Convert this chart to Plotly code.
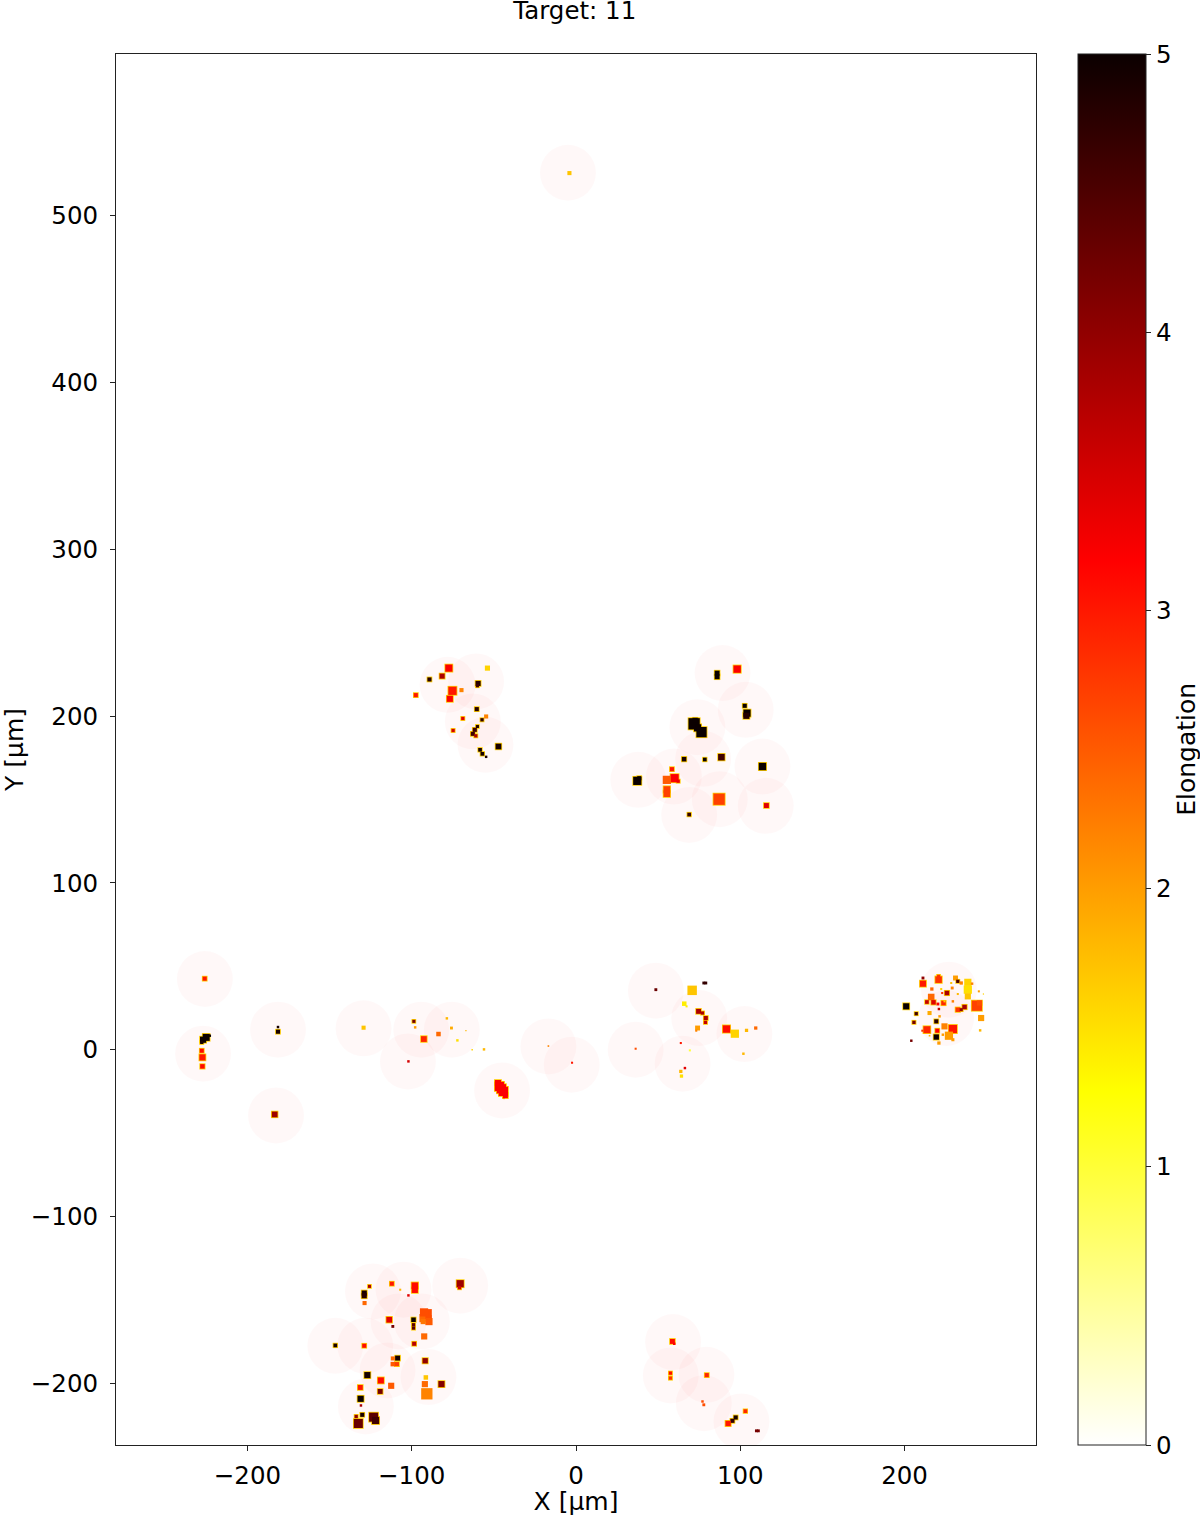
import plotly.graph_objects as go

title_text = "Target: 11"
x_label = "X [µm]"
y_label = "Y [µm]"
bar_label = "Elongation"

# Field-of-view circles (centres, µm)
circle_x = [-4.9, -78.2, -60.8, -62.8, -55.1, 89.2, 103.3, 73.9, 77.4, 113.5, 37.9, 59.6, 68.9, 87.5, 115.5,
            -123.6, -105.0, -70.5, -108.0, -93.8, -146.5, -128.3, -114.7, -89.8, -127.9,
            227.0, 225.3,
            48.6, 75.0, 102.5, 36.3, 64.9,
            -225.9, -227.0, -181.4, -182.6, -129.3, -94.2, -75.6, -102.3, -45.0, -16.8, -2.6,
            59.1, 57.7, 79.4, 77.8, 100.7]
circle_y = [525.8, 218.8, 220.8, 196.8, 182.8, 225.8, 203.8, 193.4, 174.4, 169.8, 161.8, 163.8, 140.8, 150.2, 146.2,
            -144.9, -143.9, -141.5, -162.9, -162.9, -177.5, -177.5, -192.3, -196.3, -213.9,
            36.0, 19.0,
            35.4, 19.0, 9.4, 0.0, -8.4,
            42.4, -2.4, 12.0, -39.4, 12.8, 12.0, 12.0, -7.0, -24.4, 2.0, -9.0,
            -175.3, -195.3, -194.9, -211.9, -222.9]

# Upper left group
ul_x = [-77.4, -89.2, -81.5, -97.5, -75.2, -69.7, -76.8, -53.9, -59.6, -60.0, -60.4, -57.2, -54.7, -68.9, -74.8, -60.0, -61.6, -62.8, -61.0, -47.2, -58.4, -57.0, -54.7]
ul_y = [228.8, 222.0, 224.0, 212.6, 215.2, 215.6, 210.4, 228.8, 219.6, 218.2, 204.2, 197.8, 199.8, 198.6, 191.4, 193.8, 191.8, 189.4, 188.2, 181.8, 179.8, 177.4, 175.6]
ul_v = [3.2, 4.8, 3.8, 3.0, 3.0, 2.2, 3.2, 1.6, 4.8, 4.6, 4.8, 4.7, 2.2, 3.4, 3.5, 4.8, 4.6, 4.6, 3.8, 4.9, 4.9, 4.9, 4.9]
ul_d = [3.5, 2.0, 2.5, 2.0, 4.0, 2.0, 3.0, 2.5, 2.5, 1.5, 2.0, 1.6, 2.0, 1.6, 1.6, 1.5, 2.0, 2.0, 1.6, 2.8, 1.8, 1.8, 1.2]

# Upper right group
ur_x = [85.9, 85.9, 98.1, 102.7, 104.1, 103.7, 71.9, 76.4, 65.8, 78.4, 88.5, 113.5, 37.3, 38.5, 58.4, 60.0, 62.2, 55.3, 55.3, 55.3, 87.1, 68.9, 115.9, 74.0, 72.5]
ur_y = [225.8, 223.6, 228.2, 206.2, 201.8, 200.2, 195.4, 190.4, 174.2, 174.0, 175.4, 169.8, 161.2, 162.8, 168.2, 162.8, 161.0, 161.8, 156.0, 153.5, 150.2, 141.0, 146.4, 193.0, 197.5]
ur_v = [5.0, 5.0, 3.2, 5.0, 5.0, 4.8, 5.0, 5.0, 4.9, 5.0, 4.6, 5.0, 5.0, 5.0, 3.0, 3.2, 3.3, 2.5, 2.7, 2.7, 2.7, 4.7, 3.4, 5.0, 5.0]
ur_d = [2.4, 2.4, 3.6, 2.0, 3.5, 3.0, 5.5, 5.0, 2.2, 1.8, 3.2, 3.6, 4.0, 2.0, 2.0, 4.0, 1.6, 4.0, 3.2, 3.2, 5.5, 1.8, 2.4, 3.5, 2.5]

# Lower left group
ll_x = [-128.9, -128.9, -125.7, -128.7, -112.1, -107.0, -98.1, -98.1, -102.0, -70.5, -70.9, -91.2, -92.8, -89.8, -113.7, -111.5, -98.9, -98.9, -98.9, -92.4, -98.5, -146.5, -128.9, -108.6, -111.5, -111.5, -109.0, -91.8, -127.0, -118.8, -131.3, -112.5, -119.2, -91.4, -92.0, -90.8, -81.9, -131.1, -130.9, -130.1, -133.8, -132.5, -123.2, -122.0, -92.5, -89.5, -93.0]
ll_y = [-145.9, -147.5, -141.9, -151.9, -140.3, -143.9, -141.5, -144.0, -147.3, -140.3, -142.7, -158.9, -160.9, -160.9, -161.9, -165.9, -161.9, -164.9, -166.9, -171.9, -176.3, -177.3, -177.5, -184.9, -185.1, -188.5, -188.5, -186.5, -195.1, -198.3, -202.5, -201.5, -204.9, -196.5, -200.5, -206.3, -200.5, -209.3, -213.3, -218.9, -219.9, -224.1, -220.3, -222.3, -157.5, -163.0, -163.0]
ll_v = [4.9, 4.8, 3.8, 2.4, 3.0, 1.8, 3.1, 3.1, 3.4, 3.9, 3.5, 2.6, 2.4, 2.6, 3.4, 4.2, 5.0, 4.4, 4.4, 2.4, 3.7, 4.9, 3.1, 4.9, 2.4, 2.5, 2.7, 4.0, 4.9, 3.1, 3.0, 2.5, 4.2, 1.7, 2.4, 2.2, 4.1, 5.0, 3.8, 4.9, 4.0, 4.3, 4.4, 4.6, 2.6, 2.5, 2.3]
ll_d = [2.5, 2.5, 1.5, 2.0, 2.0, 1.0, 3.2, 3.0, 1.2, 3.5, 1.6, 5.5, 4.0, 3.0, 2.8, 1.4, 2.2, 1.6, 1.6, 3.0, 2.0, 1.8, 2.0, 2.4, 2.0, 2.2, 2.0, 2.6, 3.0, 3.0, 2.4, 3.0, 2.4, 2.2, 3.0, 5.5, 3.0, 3.0, 1.2, 2.0, 1.6, 4.4, 4.4, 3.5, 4.0, 3.5, 2.5]

# Far right group
fr_x = [201.0, 207.1, 205.7, 204.1, 211.2, 211.2, 220.7, 220.7, 216.6, 216.2, 213.6, 217.6, 223.7, 220.3, 220.9, 215.2, 222.3, 222.9, 225.8, 228.4, 229.0, 231.0, 232.4, 234.5, 238.5, 238.5, 238.5, 241.1, 245.2, 248.0, 232.4, 229.4, 224.3, 232.4, 236.5, 234.5, 244.0, 245.6, 246.6, 246.0, 219.3, 221.3, 213.6, 210.8, 219.9, 219.3, 220.9, 215.2, 224.3, 229.4, 227.0, 229.4, 223.3]
fr_y = [26.0, 21.6, 16.4, 5.4, 43.0, 39.6, 42.0, 44.0, 36.4, 31.6, 28.6, 28.4, 28.0, 27.4, 24.4, 22.0, 36.4, 34.0, 34.0, 40.0, 37.0, 43.0, 41.0, 40.0, 40.4, 36.0, 32.0, 39.6, 35.0, 33.4, 33.4, 29.0, 29.0, 24.0, 25.6, 24.0, 26.4, 28.0, 19.0, 11.6, 17.0, 20.0, 12.0, 11.4, 11.4, 7.6, 4.0, 8.4, 14.0, 12.4, 8.4, 6.0, 9.0]
fr_v = [5.0, 4.6, 4.2, 4.2, 4.0, 3.0, 2.8, 2.8, 2.4, 2.4, 3.6, 3.4, 2.9, 3.2, 3.6, 1.9, 1.6, 2.8, 3.8, 1.7, 2.2, 2.0, 4.5, 2.2, 1.6, 1.5, 1.7, 2.2, 2.0, 1.6, 1.8, 2.2, 1.6, 2.8, 3.8, 4.0, 2.7, 2.6, 2.0, 1.8, 4.8, 2.0, 2.9, 2.8, 3.2, 5.0, 2.0, 1.8, 2.2, 3.0, 2.0, 2.0, 2.0]
fr_d = [3.0, 1.6, 1.6, 1.2, 1.4, 3.0, 3.2, 1.5, 1.6, 3.2, 1.8, 2.2, 2.2, 1.4, 1.2, 2.0, 1.0, 1.0, 2.2, 1.0, 1.4, 2.4, 1.6, 1.6, 3.5, 4.0, 3.0, 1.2, 1.0, 0.6, 1.0, 1.2, 1.0, 2.2, 2.2, 1.5, 5.0, 2.6, 3.0, 1.2, 2.0, 1.2, 3.4, 1.0, 2.0, 2.6, 1.6, 0.8, 3.0, 4.0, 4.0, 1.5, 1.2]

# Central right group
cr_x = [48.6, 77.8, 79.0, 70.7, 65.9, 67.3, 74.6, 77.0, 79.0, 78.8, 74.0, 73.2, 91.6, 96.7, 103.8, 109.4, 101.9, 63.8, 69.3, 36.3, 66.3, 63.8, 64.2]
cr_y = [36.0, 40.0, 40.0, 35.6, 27.6, 26.0, 23.0, 22.0, 19.0, 16.4, 13.0, 11.4, 12.4, 9.6, 11.6, 13.0, -2.4, 4.0, -0.4, 0.6, -11.0, -13.0, -15.8]
cr_v = [4.3, 4.7, 4.7, 1.7, 1.4, 1.4, 3.8, 3.8, 3.8, 3.6, 2.0, 2.2, 3.1, 1.6, 1.8, 2.4, 1.8, 3.0, 1.0, 2.6, 3.4, 1.8, 1.5]
cr_d = [1.4, 1.4, 1.4, 4.6, 2.2, 1.0, 2.4, 1.6, 2.0, 1.6, 2.4, 1.0, 3.6, 4.0, 1.6, 1.6, 1.2, 1.0, 1.0, 1.0, 1.2, 1.6, 1.6]

# Central left group and top spot
cl_x = [-4.0, -226.0, -225.1, -227.0, -222.9, -227.8, -227.8, -227.4, -227.4, -181.4, -181.4, -183.4, -129.3, -98.7, -97.9, -92.6, -83.7, -78.6, -75.8, -67.0, -72.2, -63.2, -56.0, -102.0, -46.6, -44.2, -45.4, -42.6, -43.8, -16.8, -2.4, -47.5, -43.0]
cl_y = [525.6, 42.6, 7.4, 6.0, 8.4, 4.4, -0.6, -4.6, -10.0, 13.6, 10.8, -38.8, 13.2, 17.0, 13.4, 6.4, 9.4, 18.8, 13.0, 11.4, 5.6, 0.0, 0.2, -7.0, -22.0, -25.0, -23.4, -26.8, -29.0, 2.2, -7.8, -20.0, -27.5]
cl_v = [1.7, 3.0, 5.0, 5.0, 5.0, 4.9, 3.1, 3.0, 3.1, 4.9, 4.9, 3.9, 1.7, 4.2, 2.0, 2.9, 2.4, 1.8, 1.9, 1.8, 1.5, 1.6, 1.8, 3.5, 3.2, 3.2, 3.2, 3.2, 2.0, 2.2, 3.0, 3.2, 3.2]
cl_d = [2.0, 2.0, 3.4, 3.0, 1.2, 1.6, 2.0, 3.0, 2.2, 1.2, 2.0, 2.8, 2.0, 1.5, 1.2, 2.8, 2.2, 1.2, 1.4, 0.6, 1.2, 0.7, 1.2, 1.2, 4.5, 4.5, 4.5, 1.5, 1.0, 0.8, 1.0, 3.0, 2.5]

# Lower right group
lr_x = [58.7, 59.8, 57.5, 57.5, 79.6, 77.0, 77.8, 103.1, 97.2, 95.2, 92.6, 111.0, 109.8]
lr_y = [-174.9, -176.3, -193.9, -196.9, -195.1, -210.9, -212.9, -216.7, -220.5, -222.5, -224.1, -228.5, -228.5]
lr_v = [3.1, 3.2, 3.1, 2.8, 2.9, 2.6, 2.6, 2.9, 4.9, 4.7, 3.0, 4.2, 4.2]
lr_d = [2.4, 1.2, 1.6, 1.6, 2.0, 1.2, 1.4, 1.8, 2.0, 2.0, 2.6, 1.4, 1.4]

spot_x = ul_x + ur_x + ll_x + fr_x + cr_x + cl_x + lr_x
spot_y = ul_y + ur_y + ll_y + fr_y + cr_y + cl_y + lr_y
spot_v = ul_v + ur_v + ll_v + fr_v + cr_v + cl_v + lr_v
spot_d = ul_d + ur_d + ll_d + fr_d + cr_d + cl_d + lr_d

x_range = [-280, 280]
y_range = [-237, 597]
plot_w = 920.5
px_per_um = plot_w / (x_range[1] - x_range[0])

hot_r = [[0, "rgb(255,255,255)"], [0.254, "rgb(255,255,0)"], [0.635, "rgb(255,0,0)"], [1, "rgb(11,0,0)"]]
font = "DejaVu Sans"

fig = go.Figure()
fig.add_trace(go.Scatter(
    x=circle_x, y=circle_y, mode="markers", hoverinfo="skip",
    marker=dict(symbol="circle", size=56, color="rgba(255,0,0,0.026)", line_width=0),
))
halo = [i for i in range(len(spot_x)) if spot_v[i] > 2.6 and spot_d[i] >= 1.5]
fig.add_trace(go.Scatter(
    x=[spot_x[i] for i in halo], y=[spot_y[i] for i in halo], mode="markers", hoverinfo="skip",
    marker=dict(symbol="square", size=[spot_d[i] * px_per_um * 1.25 + 1.6 for i in halo], opacity=1,
                color="rgb(255,205,0)", line_width=0),
))
fig.add_trace(go.Scatter(
    x=spot_x, y=spot_y, mode="markers",
    marker=dict(symbol="square", size=[d * px_per_um * 1.25 for d in spot_d], opacity=1, color=spot_v,
                colorscale=hot_r, cmin=0, cmax=5, line_width=0,
                colorbar=dict(
                    x=1.0456, xanchor="left", xpad=0, y=0, yanchor="bottom", ypad=0,
                    len=1, lenmode="fraction", thickness=68, thicknessmode="pixels",
                    outlinecolor="#222", outlinewidth=1, tickvals=[0, 1, 2, 3, 4, 5],
                    ticks="outside", ticklen=5, tickcolor="#222",
                    tickfont=dict(family=font, size=24.5, color="black"),
                )),
))

axis = dict(showgrid=False, zeroline=False, showline=True, mirror=True, linecolor="#222", linewidth=1,
            ticks="outside", ticklen=5, tickcolor="#222", automargin=False,
            tickfont=dict(family=font, size=24.5, color="black"))
fig.update_layout(
    width=1200, height=1516, autosize=False, showlegend=False,
    paper_bgcolor="white", plot_bgcolor="white",
    margin=dict(l=115.5, r=164, t=54, b=71),
    title=dict(text=title_text, x=0.479, xanchor="center", y=0.9932, yanchor="middle",
               font=dict(family=font, size=24.5, color="black")),
    xaxis=dict(range=x_range, tickvals=[-200, -100, 0, 100, 200], ticklabelstandoff=4,
               title=dict(text=x_label, standoff=6, font=dict(family=font, size=25, color="black")), **axis),
    yaxis=dict(range=y_range, tickvals=[-200, -100, 0, 100, 200, 300, 400, 500], ticklabelstandoff=7,
               title=dict(text=y_label, standoff=7, font=dict(family=font, size=25, color="black")), **axis),
    annotations=[dict(text=bar_label, xref="paper", yref="paper", x=1.164, y=0.5004, showarrow=False,
                      textangle=-90, xanchor="center", yanchor="middle",
                      font=dict(family=font, size=25, color="black"))],
)
fig.write_html("out.html", post_script="document.body.style.margin='0';", config=dict(displayModeBar=False))
